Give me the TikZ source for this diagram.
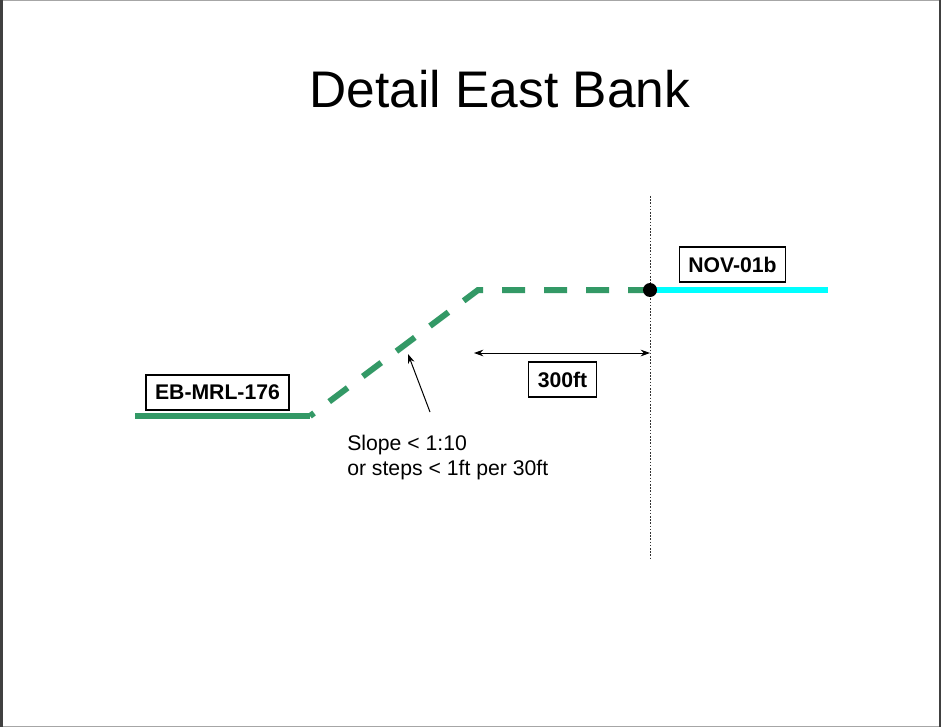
\documentclass[tikz,border=0pt]{standalone}
\usepackage{fontspec}
\setmainfont{Liberation Sans}
\usetikzlibrary{arrows.meta}
\definecolor{bankgreen}{RGB}{51,153,102}
\definecolor{riverc}{RGB}{0,255,255}
\begin{document}
\begin{tikzpicture}[x=0.75pt,y=-0.75pt,
  lbl/.style={draw=black,line width=0.9pt,fill=white,font=\fontsize{15.9}{19}\selectfont\bfseries,inner xsep=6.75pt,inner ysep=0pt,minimum height=26.25pt},
  greenline/.style={draw=bankgreen,line width=4.5pt},
  greendash/.style={draw=bankgreen,line width=4.5pt,dash pattern=on 17.25pt off 14.25pt,dash phase=13.5pt},
  thinarrow/.style={draw=black,line width=0.75pt,-{Stealth[length=7pt,width=5pt]}},
  dimarrow/.style={draw=black,line width=0.75pt,{Stealth[length=7pt,width=5pt]}-{Stealth[length=7pt,width=5pt]}},
  guide/.style={draw=black!80,line width=0.75pt,dash pattern=on 1.2pt off 1.2pt}]
\useasboundingbox (0,0) rectangle (941,727);
\fill[white] (0,0) rectangle (941,727);
\draw[black!35,line width=1pt] (0.5,0.5) rectangle (940.5,726.5);
\draw[black!75,line width=1.5pt] (1.5,0) -- (1.5,727);
\draw[black!75,line width=1.5pt] (939.5,0) -- (939.5,727);
% title
\node[anchor=base,inner sep=0pt,font=\fontsize{38.6}{46}\selectfont] (title) at (500,108) {Detail East Bank};
% guide line
\coordinate (gtop) at (650,196);
\coordinate (gbot) at (650,560);
\draw[guide] (gtop) -- (gbot);
% bank profile
\coordinate (a) at (135,416);
\coordinate (b) at (310,416);
\coordinate (c) at (478,290);
\coordinate (d) at (650,290);
\coordinate (e) at (828,290);
\draw[greenline] (a) -- (b);
\draw[greendash] (b) -- (c) -- (d);
\draw[draw=riverc,line width=4.5pt] (d) -- (e);
\node[circle,fill=black,inner sep=0pt,minimum size=10.5pt] (dot) at (d) {};
% labels
\node[lbl] (eb) at (217.5,392.5) {EB-MRL-176};
\node[lbl] (nov) at (732.5,264.5) {NOV-01b};
\node[lbl] (dist) at (562.5,379.5) {300ft};
% dimension arrow
\coordinate (dl) at (474,353);
\coordinate (dr) at (650,353);
\draw[dimarrow] (dl) -- (dr);
% slope note
\coordinate (st) at (430,412);
\coordinate (sh) at (408,354);
\draw[thinarrow] (st) -- (sh);
\node[anchor=north west,align=left,inner sep=0pt,font=\fontsize{15.9}{18.75}\selectfont] (note) at (347,434.5) {Slope {\textless} 1:10\\or steps {\textless} 1ft per 30ft};
\end{tikzpicture}
\end{document}
